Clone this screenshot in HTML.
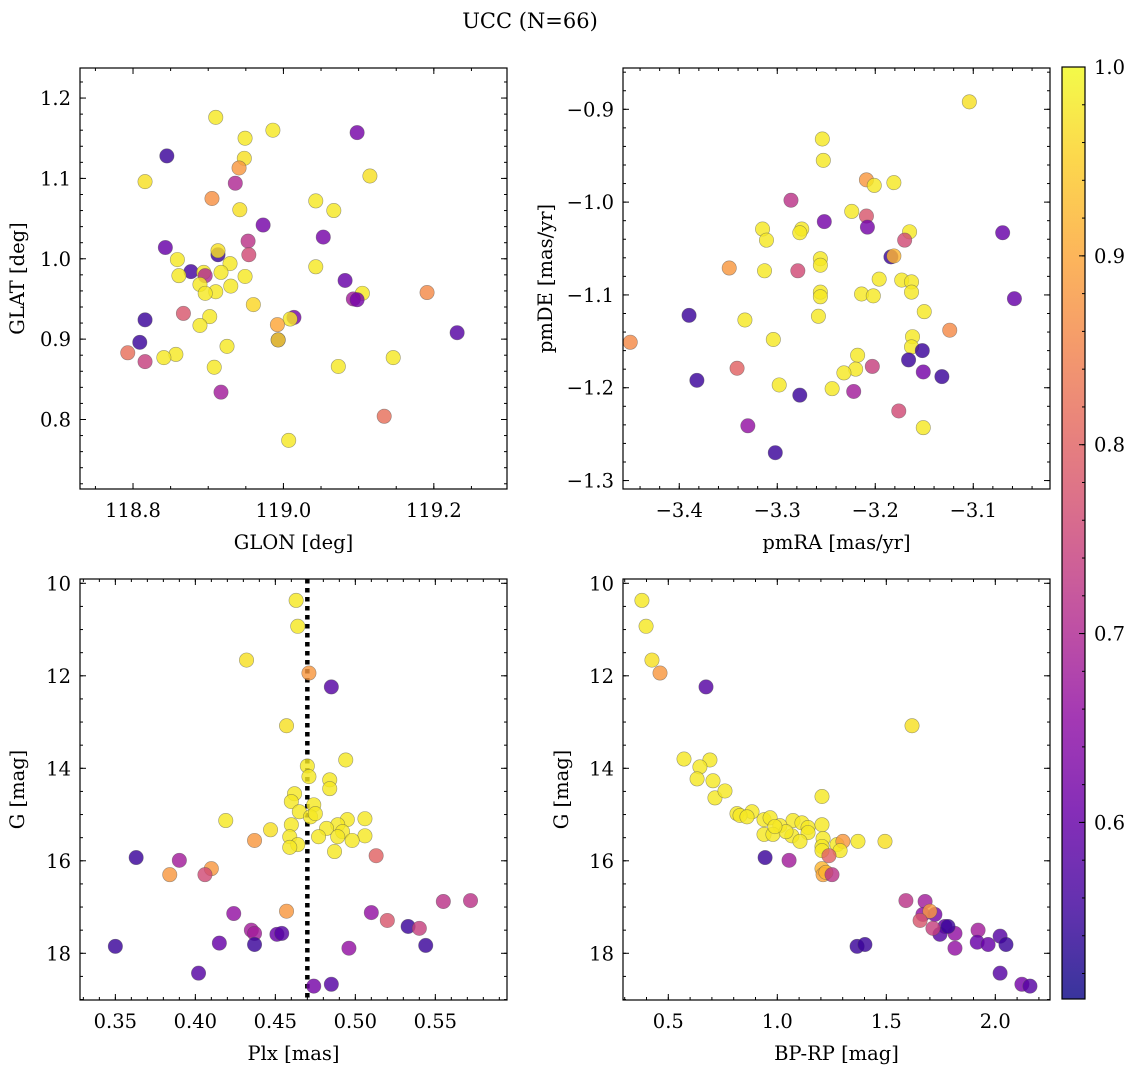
<!DOCTYPE html>
<html><head><meta charset="utf-8">
<style>
html,body{margin:0;padding:0;background:#fff;}
svg{display:block;font-family:"DejaVu Serif","Liberation Serif",serif;}
</style></head>
<body>
<svg id="fig" width="1136" height="1067" viewBox="0 0 1136 1067" xmlns="http://www.w3.org/2000/svg">
<text x="530" y="28" font-size="21" text-anchor="middle">UCC (N=66)</text>
</svg>
<script>
// ---- Panel 1: GLON vs GLAT ----
const p1Lon=[118.845,118.816,118.910,118.986,119.098,118.949,118.948,118.941,118.936,119.115,118.905,119.043,119.067,118.942,118.973,118.843,118.953,119.053,118.913,118.913,118.954,118.859,118.929,119.043,118.877,118.894,118.861,118.917,118.949,118.896,119.082,118.889,118.930,118.910,118.896,119.105,118.960,119.191,119.093,119.098,118.902,119.014,119.009,118.867,118.889,118.816,118.992,119.231,118.809,118.993,118.993,118.925,118.793,118.857,118.841,119.146,118.816,118.908,119.073,118.917,119.134,119.007];
const p1Lat=[1.128,1.096,1.176,1.160,1.157,1.150,1.125,1.113,1.094,1.103,1.075,1.072,1.060,1.061,1.042,1.014,1.022,1.027,1.005,1.010,1.005,0.999,0.994,0.990,0.984,0.983,0.979,0.983,0.978,0.979,0.973,0.968,0.966,0.959,0.957,0.957,0.943,0.958,0.950,0.949,0.928,0.927,0.925,0.932,0.917,0.924,0.918,0.908,0.896,0.899,0.899,0.891,0.883,0.881,0.877,0.877,0.872,0.865,0.866,0.834,0.804,0.774];
const p1Prob=[0.55,0.97,0.98,0.98,0.62,0.98,0.97,0.88,0.70,0.97,0.87,0.98,0.98,0.97,0.62,0.60,0.72,0.62,0.55,0.97,0.76,0.98,0.98,0.98,0.56,0.98,0.98,0.98,0.98,0.70,0.60,0.98,0.98,0.98,0.98,0.98,0.96,0.86,0.68,0.62,0.98,0.62,0.98,0.78,0.98,0.55,0.90,0.58,0.55,0.56,0.96,0.98,0.82,0.98,0.98,0.98,0.74,0.98,0.98,0.68,0.82,0.98];
// ---- Panel 2: pmRA vs pmDE ----
const p2Ra=[-3.104,-3.254,-3.253,-3.209,-3.201,-3.181,-3.286,-3.252,-3.224,-3.209,-3.208,-3.275,-3.315,-3.070,-3.165,-3.170,-3.277,-3.311,-3.184,-3.181,-3.256,-3.349,-3.256,-3.279,-3.313,-3.196,-3.173,-3.163,-3.256,-3.256,-3.214,-3.202,-3.163,-3.058,-3.150,-3.390,-3.258,-3.333,-3.124,-3.162,-3.163,-3.450,-3.304,-3.218,-3.166,-3.152,-3.382,-3.203,-3.151,-3.132,-3.220,-3.232,-3.298,-3.244,-3.341,-3.222,-3.277,-3.176,-3.151,-3.330,-3.302];
const p2De=[-0.892,-0.932,-0.955,-0.976,-0.982,-0.979,-0.998,-1.021,-1.010,-1.015,-1.027,-1.029,-1.029,-1.033,-1.032,-1.041,-1.033,-1.041,-1.059,-1.058,-1.061,-1.071,-1.068,-1.074,-1.074,-1.083,-1.084,-1.086,-1.097,-1.102,-1.099,-1.101,-1.097,-1.104,-1.118,-1.122,-1.123,-1.127,-1.138,-1.145,-1.156,-1.151,-1.148,-1.165,-1.170,-1.160,-1.192,-1.177,-1.183,-1.188,-1.180,-1.184,-1.197,-1.201,-1.179,-1.204,-1.208,-1.225,-1.243,-1.241,-1.270];
const p2Prob=[0.97,0.98,0.98,0.88,0.98,0.98,0.72,0.62,0.98,0.78,0.62,0.98,0.98,0.60,0.98,0.76,0.98,0.98,0.55,0.92,0.98,0.88,0.98,0.76,0.98,0.98,0.98,0.98,0.98,0.98,0.98,0.98,0.98,0.60,0.98,0.55,0.98,0.98,0.86,0.98,0.98,0.86,0.98,0.98,0.55,0.55,0.55,0.74,0.62,0.55,0.98,0.98,0.98,0.98,0.80,0.68,0.55,0.76,0.98,0.66,0.55];
// ---- Panel 3: Plx vs G ----
const p3Plx=[0.463,0.464,0.432,0.471,0.485,0.457,0.494,0.470,0.471,0.484,0.462,0.460,0.474,0.484,0.465,0.472,0.475,0.495,0.489,0.506,0.419,0.447,0.482,0.460,0.492,0.506,0.459,0.477,0.489,0.498,0.464,0.487,0.459,0.437,0.513,0.363,0.390,0.410,0.384,0.406,0.457,0.424,0.510,0.555,0.572,0.520,0.533,0.540,0.435,0.437,0.451,0.454,0.437,0.415,0.496,0.544,0.350,0.402,0.474,0.485];
const p3G=[10.37,10.93,11.66,11.94,12.24,13.08,13.82,13.95,14.18,14.25,14.55,14.72,14.79,14.44,14.94,15.05,14.98,15.11,15.22,15.09,15.13,15.33,15.30,15.22,15.37,15.46,15.48,15.48,15.48,15.56,15.65,15.80,15.71,15.56,15.89,15.93,15.99,16.17,16.30,16.30,17.09,17.14,17.12,16.88,16.86,17.29,17.42,17.46,17.50,17.57,17.59,17.57,17.81,17.78,17.89,17.83,17.85,18.43,18.71,18.67];
const p3Prob=[0.98,0.98,0.97,0.88,0.58,0.97,0.98,0.98,0.98,0.98,0.98,0.98,0.98,0.98,0.98,0.98,0.98,0.98,0.98,0.98,0.98,0.97,0.98,0.98,0.98,0.98,0.98,0.98,0.98,0.98,0.98,0.98,0.98,0.88,0.80,0.55,0.68,0.88,0.88,0.76,0.88,0.66,0.66,0.72,0.72,0.78,0.55,0.74,0.68,0.68,0.60,0.58,0.55,0.60,0.66,0.55,0.55,0.58,0.62,0.58];
const plxLine=[0.47];
// ---- Panel 4: BP-RP vs G ----
const p4Col=[0.379,0.398,0.425,0.462,0.673,1.618,0.572,0.691,0.645,0.705,0.714,0.632,0.760,0.815,0.884,0.829,0.861,0.939,0.967,1.072,1.012,1.113,1.141,1.205,1.205,1.210,1.274,1.370,1.301,1.494,1.205,1.205,1.288,1.067,0.939,0.980,1.040,1.141,0.989,1.104,1.205,1.210,1.223,1.251,1.237,0.944,1.054,1.590,1.678,1.668,1.723,1.700,1.655,1.769,1.746,1.714,1.815,1.921,1.783,1.917,1.967,1.366,1.402,1.815,2.022,2.049,2.022,2.122,2.159];
const p4G=[10.37,10.93,11.66,11.94,12.24,13.08,13.80,13.82,13.97,14.27,14.64,14.23,14.49,14.98,14.94,15.02,15.05,15.11,15.07,15.13,15.24,15.18,15.28,15.22,14.61,15.52,15.65,15.58,15.58,15.58,15.69,15.78,15.78,15.46,15.43,15.43,15.37,15.39,15.26,15.58,16.17,16.30,16.25,16.30,15.89,15.93,15.99,16.86,16.88,17.16,17.16,17.09,17.29,17.42,17.59,17.46,17.57,17.50,17.42,17.76,17.81,17.85,17.81,17.89,17.63,17.81,18.43,18.67,18.71];
const p4Prob=[0.98,0.98,0.97,0.88,0.58,0.97,0.98,0.98,0.98,0.98,0.98,0.98,0.98,0.98,0.98,0.98,0.98,0.98,0.98,0.98,0.98,0.98,0.98,0.98,0.98,0.98,0.98,0.98,0.88,0.97,0.98,0.98,0.98,0.98,0.98,0.98,0.98,0.98,0.98,0.98,0.92,0.90,0.92,0.72,0.80,0.55,0.68,0.72,0.68,0.66,0.62,0.88,0.78,0.60,0.58,0.74,0.66,0.68,0.55,0.60,0.60,0.55,0.55,0.66,0.58,0.55,0.58,0.62,0.58];
// ---- Colorbar ----
const cbTicks=[0.6,0.7,0.8,0.9,1.0];
const cbTickLabels=["0.6","0.7","0.8","0.9","1.0"];

const NS="http://www.w3.org/2000/svg";
const svg=document.getElementById('fig');
const FS=19.5;
function mk(tag,attrs,parent){const e=document.createElementNS(NS,tag);for(const k in attrs)e.setAttribute(k,attrs[k]);(parent||svg).appendChild(e);return e;}
const stops=[[13,8,135],[65,4,157],[106,0,168],[143,13,164],[177,42,144],[204,71,120],[225,100,98],[242,132,75],[252,166,54],[252,206,37],[240,249,33]];
const VMIN=0.5065,VMAX=1.0;
function plasma(t){t=Math.max(0,Math.min(1,t));const f=t*10,i=Math.min(9,Math.floor(f)),r=f-i;const a=stops[i],b=stops[i+1];return `rgb(${Math.round(a[0]+(b[0]-a[0])*r)},${Math.round(a[1]+(b[1]-a[1])*r)},${Math.round(a[2]+(b[2]-a[2])*r)})`;}
function cmap(v){return plasma((v-VMIN)/(VMAX-VMIN));}
function lin(d0,d1,r0,r1){return v=>r0+(v-d0)*(r1-r0)/(d1-d0);}
function fmt(v,dec){let s=Math.abs(v).toFixed(dec);return (v<-1e-9?"\u2212":"")+s;}

function panel(o){
  const g=mk('g',{});
  
  
  const X=lin(o.xd[0],o.xd[1],o.L,o.R), Y=lin(o.yd[0],o.yd[1],o.B,o.T);
  const cid='clip-'+o.name;
  const cp=mk('clipPath',{id:cid},g);mk('rect',{x:o.L,y:o.T,width:o.R-o.L,height:o.B-o.T},cp);
  const pts=mk('g',{'clip-path':`url(#${cid})`},g);
  
  
  if(o.vline){for(const v of o.vline){const l=mk('line',{x1:X(v),x2:X(v),y1:o.T,y2:o.B,stroke:'#000','stroke-width':4.5,'stroke-dasharray':'4.5 4.5'},pts);
    
    }}
  for(let i=0;i<o.x.length;i++){
    const c=mk('circle',{cx:X(o.x[i]),cy:Y(o.y[i]),r:7.2,fill:cmap(o.c[i]),'fill-opacity':0.82,stroke:'rgba(80,80,80,0.55)','stroke-width':0.6},pts);
    
    
  }
  mk('rect',{x:o.L,y:o.T,width:o.R-o.L,height:o.B-o.T,fill:'none',stroke:'#000','stroke-width':1.2},g);
  const tk=mk('g',{stroke:'#000','stroke-width':1},g);
  function rng(a,b,s){const out=[];const st=Math.ceil(a/s-1e-6);for(let k=st;k*s<=b+1e-9;k++)out.push(+(k*s).toFixed(6));return out;}
  const xlo=Math.min(...o.xd),xhi=Math.max(...o.xd),ylo=Math.min(...o.yd),yhi=Math.max(...o.yd);
  for(const v of rng(xlo,xhi,o.xmin)){const px=X(v);mk('line',{x1:px,x2:px,y1:o.B,y2:o.B-3},tk);mk('line',{x1:px,x2:px,y1:o.T,y2:o.T+3},tk);}
  for(const v of rng(ylo,yhi,o.ymin)){const py=Y(v);mk('line',{x1:o.L,x2:o.L+3,y1:py,y2:py},tk);mk('line',{x1:o.R,x2:o.R-3,y1:py,y2:py},tk);}
  for(const v of rng(xlo,xhi,o.xmaj)){const px=X(v);mk('line',{x1:px,x2:px,y1:o.B,y2:o.B-6},tk);mk('line',{x1:px,x2:px,y1:o.T,y2:o.T+6},tk);
    const t=mk('text',{x:px,y:o.B+28,'font-size':FS,'text-anchor':'middle'},g);t.textContent=fmt(v,o.xdec);
    
    }
  for(const v of rng(ylo,yhi,o.ymaj)){const py=Y(v);mk('line',{x1:o.L,x2:o.L+6,y1:py,y2:py},tk);mk('line',{x1:o.R,x2:o.R-6,y1:py,y2:py},tk);
    const t=mk('text',{x:o.L-9,y:py+7,'font-size':FS,'text-anchor':'end'},g);t.textContent=fmt(v,o.ydec);
    
    }
  const xl=mk('text',{x:(o.L+o.R)/2,y:o.B+60,'font-size':FS,'text-anchor':'middle'},g);xl.textContent=o.xlabel;
  
  
  const yx=o.ylx, yy=(o.T+o.B)/2;
  const yl=mk('text',{x:yx,y:yy,'font-size':FS,'text-anchor':'middle',transform:`rotate(-90 ${yx} ${yy})`},g);yl.textContent=o.ylabel;
  
  
}

panel({name:'glon-glat-panel',L:80,R:507,T:68,B:489,xd:[118.7295,119.2973],yd:[0.7135,1.2374],x:p1Lon,y:p1Lat,c:p1Prob,xmaj:0.2,xmin:0.05,ymaj:0.1,ymin:0.02,xdec:1,ydec:1,xlabel:'GLON [deg]',ylabel:'GLAT [deg]',ylx:24});
panel({name:'proper-motion-panel',L:623,R:1050,T:68,B:489,xd:[-3.4574,-3.0217],yd:[-1.3091,-0.8555],x:p2Ra,y:p2De,c:p2Prob,xmaj:0.1,xmin:0.02,ymaj:0.1,ymin:0.02,xdec:1,ydec:1,xlabel:'pmRA [mas/yr]',ylabel:'pmDE [mas/yr]',ylx:552});
panel({name:'plx-g-panel',L:80,R:507,T:579,B:1000,xd:[0.3279,0.5948],yd:[19.01,9.907],x:p3Plx,y:p3G,c:p3Prob,xmaj:0.05,xmin:0.01,ymaj:2,ymin:0.5,xdec:2,ydec:0,xlabel:'Plx [mas]',ylabel:'G [mag]',ylx:24,vline:plxLine});
panel({name:'cmd-panel',L:623,R:1050,T:579,B:1000,xd:[0.2922,2.2509],yd:[19.01,9.907],x:p4Col,y:p4G,c:p4Prob,xmaj:0.5,xmin:0.1,ymaj:2,ymin:0.5,xdec:1,ydec:0,xlabel:'BP-RP [mag]',ylabel:'G [mag]',ylx:568});

(function(){
  const g=mk('g',{});
  
  
  const T=67,B=999,L=1062,R=1085;
  const defs=mk('defs',{},g);
  const lg=mk('linearGradient',{id:'cbgrad',x1:0,y1:1,x2:0,y2:0},defs);
  for(let i=0;i<=20;i++){const t=i/20;mk('stop',{offset:t,'stop-color':plasma(t),'stop-opacity':0.82},lg);}
  mk('rect',{x:L,y:T,width:R-L,height:B-T,fill:'url(#cbgrad)',stroke:'#000','stroke-width':1.2},g);
  const Y=lin(VMIN,VMAX,B,T);
  for(let k=26;k<=50;k++){const v=k*0.02;if(v<VMIN)continue;mk('line',{x1:R,x2:R-3,y1:Y(v),y2:Y(v),stroke:'#000','stroke-width':1},g);}
  cbTicks.forEach((v,i)=>{const py=Y(v);mk('line',{x1:R,x2:R-6,y1:py,y2:py,stroke:'#000','stroke-width':1},g);
    const t=mk('text',{x:R+9,y:py+7,'font-size':FS},g);t.textContent=cbTickLabels[i];
    
    });
})();
</script>
</body></html>
